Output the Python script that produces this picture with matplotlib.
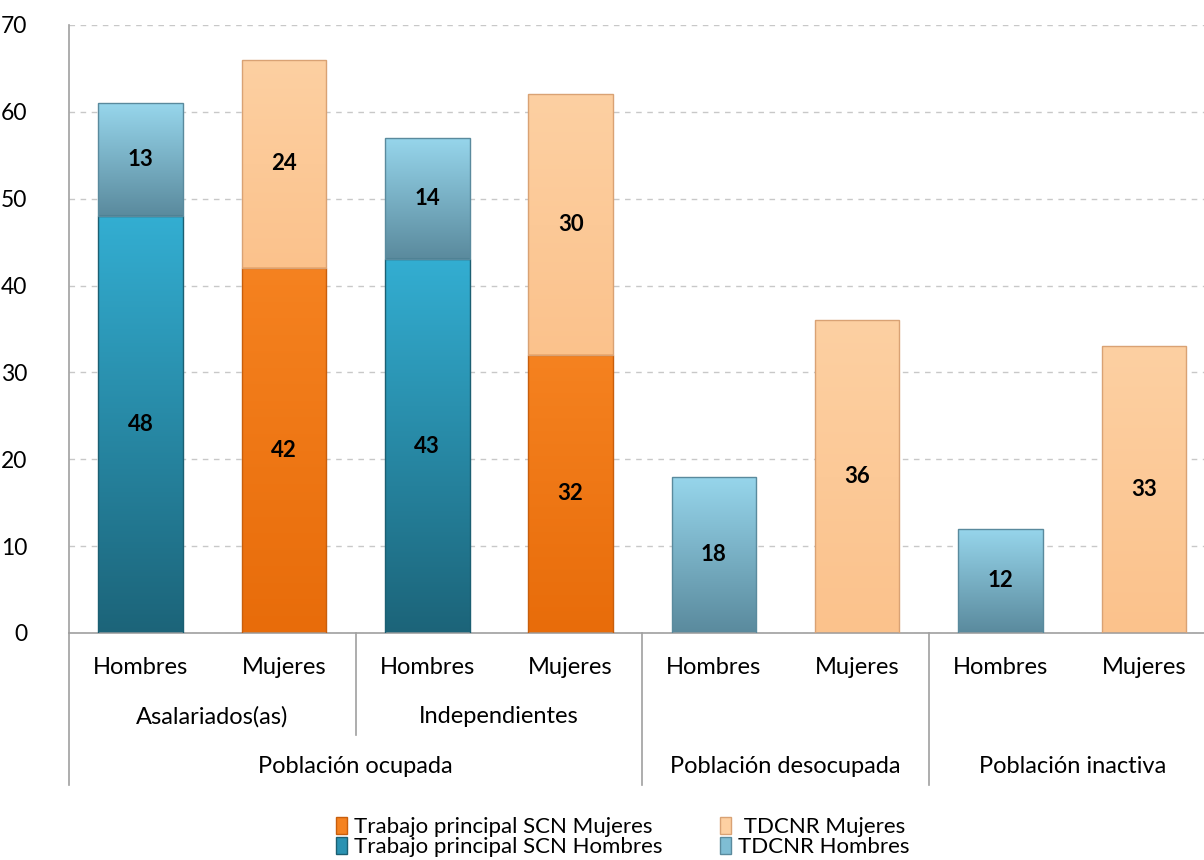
import numpy as np
import matplotlib.pyplot as plt
import matplotlib.transforms as mtransforms
from matplotlib.colors import LinearSegmentedColormap
from matplotlib.patches import Patch

plt.rcParams['font.family'] = ['Lato', 'DejaVu Sans']

sexo = ['Hombres', 'Mujeres', 'Hombres', 'Mujeres', 'Hombres', 'Mujeres', 'Hombres', 'Mujeres']
subgrupos = ['Asalariados(as)', 'Independientes']
grupos = ['Población ocupada', 'Población desocupada', 'Población inactiva']

scn_hombres = [48, 0, 43, 0, 0, 0, 0, 0]
scn_mujeres = [0, 42, 0, 32, 0, 0, 0, 0]
tdcnr_hombres = [13, 0, 14, 0, 18, 0, 12, 0]
tdcnr_mujeres = [0, 24, 0, 30, 0, 36, 0, 33]

fig = plt.figure(figsize=(12.04, 8.6), dpi=100)
ax = fig.add_axes([0.0573, 0.264, 0.9427, 0.707])

x = np.arange(len(sexo))
w = 0.59

# (top colour, bottom colour, edge colour)
estilos = {
    'scn_h': ('#33aed2', '#1c6479', '#1b5f72'),
    'scn_m': ('#f58220', '#e86c0a', '#c85e0c'),
    'td_h': ('#97d6ec', '#5a8a9d', '#5a8a9d'),
    'td_m': ('#fdd0a2', '#fbc28c', '#d9a274'),
}


def gradient_bars(vals, bottom, key):
    top_c, bot_c, edge = estilos[key]
    cmap = LinearSegmentedColormap.from_list(key, [bot_c, top_c])
    grad = np.linspace(0, 1, 256).reshape(-1, 1)
    bars = ax.bar(x, vals, w, bottom=bottom, facecolor='none', edgecolor=edge,
                  linewidth=1.0, zorder=3)
    for b in bars:
        if b.get_height() == 0:
            b.set_edgecolor('none')
            continue
        bx, by, bw, bh = b.get_x(), b.get_y(), b.get_width(), b.get_height()
        im = ax.imshow(grad, extent=[bx, bx + bw, by, by + bh], origin='lower',
                       cmap=cmap, aspect='auto', zorder=2, interpolation='bicubic')
        im.set_clip_path(b)
    labels = [str(v) if v else '' for v in vals]
    ax.bar_label(bars, labels=labels, label_type='center', fontsize=16,
                 fontweight='bold', color='black', zorder=5)
    return bars


gradient_bars(scn_hombres, 0, 'scn_h')
gradient_bars(scn_mujeres, 0, 'scn_m')
gradient_bars(tdcnr_hombres, scn_hombres, 'td_h')
gradient_bars(tdcnr_mujeres, scn_mujeres, 'td_m')

ax.set_xlim(-0.5, 7.42)
ax.set_ylim(0, 70)
ax.set_yticks(range(0, 71, 10))
ax.tick_params(axis='y', length=0, labelsize=16.5, pad=30)
ax.set_xticks([])
ax.yaxis.grid(True, linestyle=(0, (4, 4)), color='#c8c8c8', linewidth=1)
ax.set_axisbelow(True)
for s in ['top', 'right']:
    ax.spines[s].set_visible(False)
for s in ['left', 'bottom']:
    ax.spines[s].set_color('#a0a0a0')
    ax.spines[s].set_linewidth(1.2)

# multi-level category axis
tr = mtransforms.blended_transform_factory(ax.transData, ax.transAxes)
fs = 17
for i, s in enumerate(sexo):
    ax.text(i, -0.056, s, transform=tr, ha='center', va='center', fontsize=fs, clip_on=False)
for j, s in enumerate(subgrupos):
    ax.text(2 * j + 0.5, -0.138, s, transform=tr, ha='center', va='center', fontsize=fs, clip_on=False)
for c, s in zip([1.5, 4.5, 6.5], grupos):
    ax.text(c, -0.220, s, transform=tr, ha='center', va='center', fontsize=fs, clip_on=False)

lc = '#a0a0a0'
ax.plot([-0.5, -0.5], [0, -0.25], transform=tr, color=lc, lw=1.2, clip_on=False)
ax.plot([1.5, 1.5], [0, -0.168], transform=tr, color=lc, lw=1.2, clip_on=False)
ax.plot([3.5, 3.5], [0, -0.25], transform=tr, color=lc, lw=1.2, clip_on=False)
ax.plot([5.5, 5.5], [0, -0.25], transform=tr, color=lc, lw=1.2, clip_on=False)

handles = [
    Patch(facecolor=estilos['scn_m'][0], edgecolor=estilos['scn_m'][2]),
    Patch(facecolor='#2a92b2', edgecolor=estilos['scn_h'][2]),
    Patch(facecolor=estilos['td_m'][0], edgecolor=estilos['td_m'][2]),
    Patch(facecolor='#7fbdd4', edgecolor=estilos['td_h'][2]),
]
labels = ['Trabajo principal SCN Mujeres', 'Trabajo principal SCN Hombres',
          ' TDCNR Mujeres', 'TDCNR Hombres']
fig.legend(handles, labels, ncol=2, loc='center', bbox_to_anchor=(0.517, 0.027),
           frameon=False, fontsize=16, handlelength=0.5, handleheight=0.8,
           handletextpad=0.3, labelspacing=0.0, columnspacing=2.6,
           borderpad=0)

fig.savefig('out.png', dpi=100)
